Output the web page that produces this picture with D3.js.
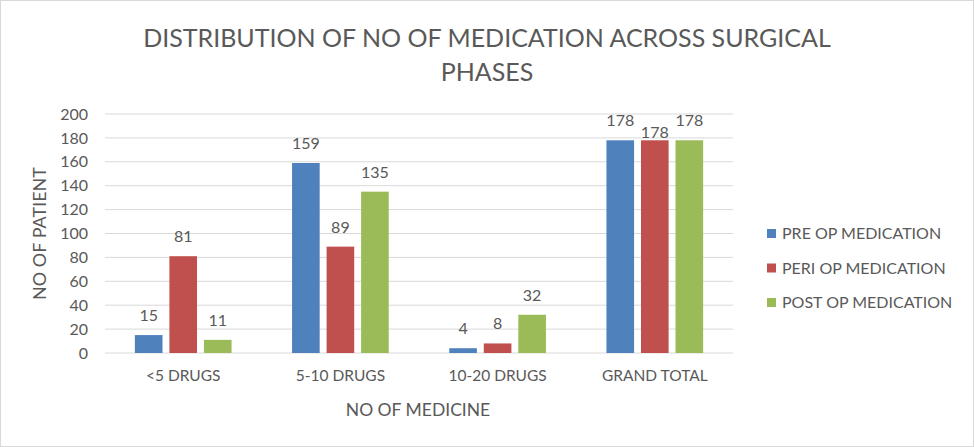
<!DOCTYPE html>
<html>
<head>
<meta charset="utf-8">
<script src="https://cdn.jsdelivr.net/npm/d3@7"></script>
<style>
  body { margin: 0; background: #fff; }
  text { font-family: Lato, "Open Sans", sans-serif; fill: #595959; }
</style>
</head>
<body>
<div id="chart"></div>
<script>
// chart data
const categories = ['<5 DRUGS', '5-10 DRUGS', '10-20 DRUGS', 'GRAND TOTAL'];
const seriesNames = ['PRE OP MEDICATION', 'PERI OP MEDICATION', 'POST OP MEDICATION'];
const preOp = [15, 159, 4, 178];
const periOp = [81, 89, 8, 178];
const postOp = [11, 135, 32, 178];
const yTicks = [0, 20, 40, 60, 80, 100, 120, 140, 160, 180, 200];
const colors = ['#4f81bd', '#c0504d', '#9bbb59'];

const width = 974, height = 447;
const margin = {top: 114, bottom: 94, left: 105, right: 241};

const svg = d3.select('#chart').append('svg')
    .attr('width', width)
    .attr('height', height);

// outer border
svg.append('rect')
    .attr('x', 0.5).attr('y', 0.5)
    .attr('width', width - 1).attr('height', height - 1)
    .attr('fill', '#fff')
    .attr('stroke', '#d9d9d9');

const series = [preOp, periOp, postOp];
const rows = categories.map((c, i) => ({cat: c, values: series.map((s, j) => ({key: seriesNames[j], value: s[i], idx: j}))}));

const x0 = d3.scaleBand()
    .domain(categories)
    .range([margin.left, width - margin.right])
    .paddingInner(0.385)
    .paddingOuter(0.19);

const x1 = d3.scaleBand()
    .domain(seriesNames)
    .range([0, x0.bandwidth()])
    .paddingInner(0.2);

const y = d3.scaleLinear()
    .domain([0, 200])
    .range([height - margin.bottom, margin.top]);

// gridlines
svg.append('g')
    .selectAll('line')
    .data(yTicks)
    .join('line')
    .attr('x1', margin.left)
    .attr('x2', width - margin.right)
    .attr('y1', d => y(d))
    .attr('y2', d => y(d))
    .attr('stroke', '#d9d9d9')
    .attr('stroke-width', 1);

// y axis labels
const yAxis = d3.axisLeft(y).tickValues(yTicks).tickSize(0).tickPadding(17);
svg.append('g')
    .attr('transform', `translate(${margin.left},0)`)
    .call(yAxis)
    .call(g => g.select('.domain').remove())
    .call(g => g.selectAll('text')
        .style('font-family', 'Lato, "Open Sans", sans-serif')
        .style('font-size', '16px')
        .attr('fill', '#595959'));

// x axis labels
const xAxis = d3.axisBottom(x0).tickSize(0).tickPadding(17);
svg.append('g')
    .attr('transform', `translate(0,${height - margin.bottom})`)
    .call(xAxis)
    .call(g => g.select('.domain').remove())
    .call(g => g.selectAll('text')
        .style('font-family', 'Lato, "Open Sans", sans-serif')
        .style('font-size', '15.5px')
        .attr('fill', '#595959'));

// bars
const groups = svg.append('g')
    .selectAll('g')
    .data(rows)
    .join('g')
    .attr('transform', d => `translate(${x0(d.cat)},0)`);

groups.selectAll('rect')
    .data(d => d.values)
    .join('rect')
    .attr('x', d => x1(d.key))
    .attr('y', d => y(d.value))
    .attr('width', x1.bandwidth())
    .attr('height', d => y(0) - y(d.value))
    .attr('fill', d => colors[d.idx]);

// value labels (middle one nudged down when the group is all equal, like the original)
groups.selectAll('text.val')
    .data(d => d.values.map(v => ({...v, same: d.values.every(o => o.value === d.values[0].value)})))
    .join('text')
    .attr('class', 'val')
    .attr('x', d => x1(d.key) + x1.bandwidth() / 2)
    .attr('y', d => y(d.value) - 14 + (d.same && d.idx === 1 ? 12 : 0))
    .attr('text-anchor', 'middle')
    .style('font-size', '16px')
    .text(d => d.value);

// title
const title = svg.append('text')
    .attr('x', 487)
    .attr('text-anchor', 'middle')
    .style('font-size', '25px');
title.append('tspan').attr('x', 487).attr('y', 47).text('DISTRIBUTION OF NO OF MEDICATION ACROSS SURGICAL');
title.append('tspan').attr('x', 487).attr('y', 81).text('PHASES');

// axis titles
svg.append('text')
    .attr('x', 418)
    .attr('y', 416)
    .attr('text-anchor', 'middle')
    .style('font-size', '17.5px')
    .text('NO OF MEDICINE');

svg.append('text')
    .attr('transform', `translate(46,${(margin.top + height - margin.bottom) / 2}) rotate(-90)`)
    .attr('text-anchor', 'middle')
    .style('font-size', '18px')
    .text('NO OF PATIENT');

// legend
const legend = svg.append('g')
    .selectAll('g')
    .data(seriesNames)
    .join('g')
    .attr('transform', (d, i) => `translate(767,${239 + i * 34.5})`);

legend.append('rect')
    .attr('x', 0).attr('y', -10)
    .attr('width', 9).attr('height', 9)
    .attr('fill', (d, i) => colors[i]);

legend.append('text')
    .attr('x', 15)
    .attr('y', 0)
    .style('font-size', '16px')
    .text(d => d);
</script>
</body>
</html>
